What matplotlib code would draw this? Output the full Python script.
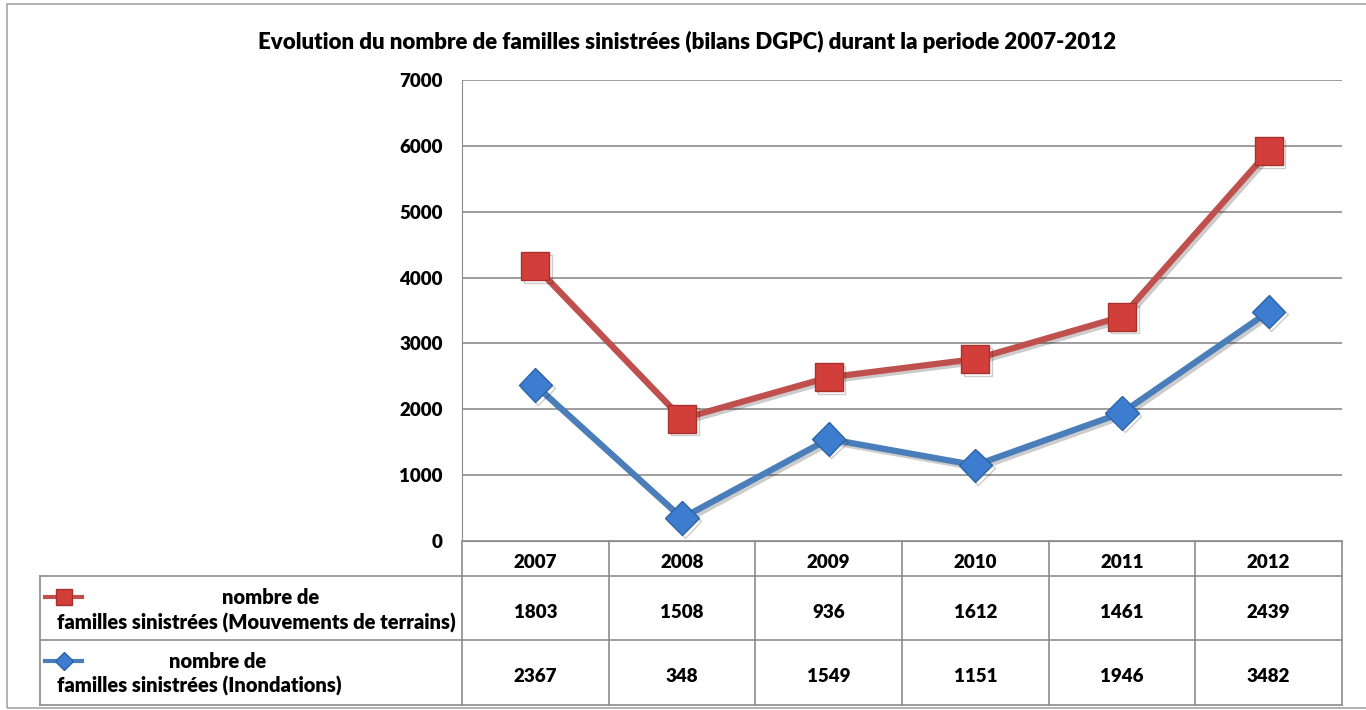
import numpy as np
import matplotlib.pyplot as plt
from matplotlib.lines import Line2D
from matplotlib.patches import Rectangle
import matplotlib.patheffects as pe
import matplotlib.transforms as mtrans

plt.rcParams['font.family'] = ['Lato', 'DejaVu Sans']

# donnees
annees = ['2007', '2008', '2009', '2010', '2011', '2012']
mouvements = [1803, 1508, 936, 1612, 1461, 2439]
inondations = [2367, 348, 1549, 1151, 1946, 3482]
lab_haut = 'nombre de'
lab_mouv = 'familles sinistrées (Mouvements de terrains)'
lab_inond = 'familles sinistrées (Inondations)'
titre = 'Evolution du nombre de familles sinistrées (bilans DGPC) durant la periode 2007-2012'

W, H = 1366, 710
fig = plt.figure(figsize=(W/100, H/100), dpi=100)

def fx(px):
    return px / W
def fy(py):
    return 1 - py / H

poids = 'heavy'

# cadre du graphique
fig.add_artist(Rectangle((fx(7), fy(708)), fx(1400), fy(4) - fy(708),
                         transform=fig.transFigure, fill=False, ec='#a6a6a6', lw=1.2))

ax = fig.add_axes([fx(462), fy(541), fx(1342) - fx(462), fy(80) - fy(541)])
x = np.arange(len(annees))
cumul = np.array(inondations) + np.array(mouvements)  # courbe empilee

l1, = ax.plot(x, cumul, color='#C0504D', lw=4.5, marker='s', ms=20,
              mfc='#D23F3B', mec='#A8302D', mew=1, zorder=3)
l2, = ax.plot(x, inondations, color='#4A7EBB', lw=4.5, marker='D', ms=17,
              mfc='#3C7DD0', mec='#2D64A8', mew=1, zorder=3)
l1.set_path_effects([pe.SimpleLineShadow(offset=(2, -2), alpha=0.2), pe.Normal()])
l2.set_path_effects([pe.SimpleLineShadow(offset=(2, -2), alpha=0.2), pe.Normal()])

ax.set_xlim(-0.5, len(annees) - 0.5)
ax.set_ylim(0, 7000)
ax.set_yticks(range(0, 7001, 1000))
ax.yaxis.grid(True, color='#8c8c8c', lw=1.2)
ax.set_axisbelow(True)
ax.set_xticks([])
for s in ['top', 'right']:
    ax.spines[s].set_visible(False)
ax.spines['left'].set_color('#8c8c8c')
ax.spines['bottom'].set_color('#8c8c8c')
ax.tick_params(axis='y', length=0, pad=14, labelsize=13.5)
for t in ax.get_yticklabels():
    t.set_fontweight(poids)

fig.text(fx(687), fy(42), titre, ha='center', va='center', fontsize=16, fontweight=poids)

# tableau de donnees
gc = '#8c8c8c'
trans = mtrans.blended_transform_factory(ax.transData, fig.transFigure)
rows_y = [541, 576, 640, 705]
for yy in rows_y[1:]:
    fig.add_artist(Line2D([fx(40), fx(1342)], [fy(yy), fy(yy)], color=gc, lw=1.2))
for xx in [40, 462, 1342]:
    y0 = 541 if xx != 40 else 576
    fig.add_artist(Line2D([fx(xx), fx(xx)], [fy(y0), fy(705)], color=gc, lw=1.2))
for i in range(1, len(annees)):
    fig.add_artist(Line2D([i - 0.5, i - 0.5], [fy(541), fy(705)], color=gc, lw=1.2,
                          transform=trans))

for i, a in enumerate(annees):
    fig.text(i, fy(562), a, transform=trans, ha='center', va='center',
             fontsize=13.5, fontweight=poids)
    fig.text(i, fy(612), str(mouvements[i]), transform=trans, ha='center', va='center',
             fontsize=13.5, fontweight=poids)
    fig.text(i, fy(676), str(inondations[i]), transform=trans, ha='center', va='center',
             fontsize=13.5, fontweight=poids)

# legendes dans le tableau
fig.add_artist(Line2D([fx(45), fx(63.5), fx(82)], [fy(597)] * 3, color='#C0504D', lw=3,
                      marker='s', ms=11, markevery=[1], mfc='#D23F3B', mec='#A8302D'))
fig.add_artist(Line2D([fx(45), fx(63.5), fx(82)], [fy(661)] * 3, color='#4A7EBB', lw=3,
                      marker='D', ms=9, markevery=[1], mfc='#3C7DD0', mec='#2D64A8'))
fig.text(fx(271), fy(598), lab_haut, ha='center', va='center', fontsize=14.5, fontweight=poids)
fig.text(fx(57), fy(623), lab_mouv, ha='left', va='center', fontsize=14.5, fontweight=poids)
fig.text(fx(218), fy(661), lab_haut, ha='center', va='center', fontsize=14.5, fontweight=poids)
fig.text(fx(57), fy(686), lab_inond, ha='left', va='center', fontsize=14.5, fontweight=poids)

fig.savefig('out.png', dpi=100)
